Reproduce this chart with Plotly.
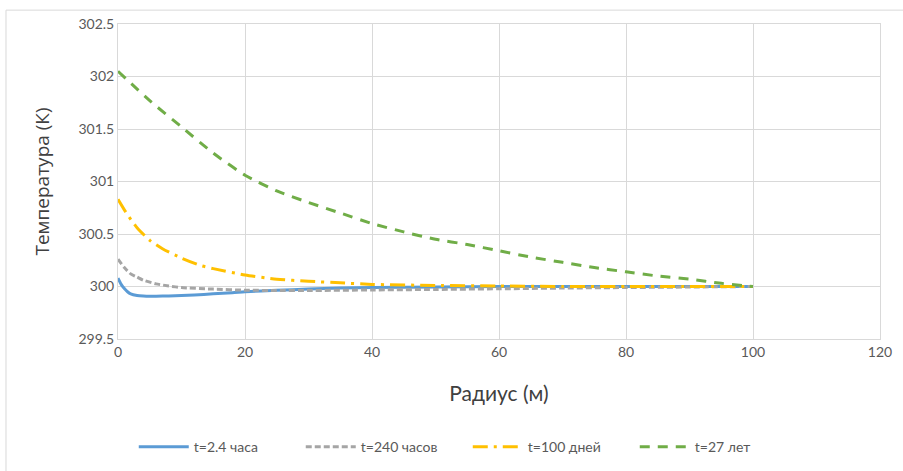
import plotly.graph_objects as go

r_blue = [0, 0.5, 1, 1.5, 2, 3, 4, 5, 6, 8, 10, 12, 15, 18, 20, 25, 30, 35, 40, 50, 60, 70, 80, 90, 100]
t_blue = [300.08, 300.02, 299.98, 299.95, 299.93, 299.915, 299.91, 299.908, 299.908, 299.91, 299.915, 299.92, 299.93, 299.94, 299.95, 299.965, 299.975, 299.985, 299.99, 299.995, 300.0, 300.0, 300.0, 300.0, 300.0]

r_gray = [0, 1, 2, 3, 4, 6, 8, 10, 15, 20, 25, 30, 40, 50, 60, 70, 80, 90, 100]
t_gray = [300.26, 300.18, 300.12, 300.09, 300.06, 300.025, 300.005, 299.99, 299.975, 299.965, 299.962, 299.962, 299.967, 299.972, 299.978, 299.985, 299.99, 299.995, 300.0]

r_yellow = [0, 1, 2, 3, 5, 7, 10, 13, 15, 20, 25, 30, 35, 40, 50, 60, 70, 80, 90, 100]
t_yellow = [300.83, 300.73, 300.64, 300.56, 300.44, 300.36, 300.27, 300.2, 300.17, 300.11, 300.07, 300.05, 300.035, 300.02, 300.01, 300.005, 300.0, 300.0, 300.0, 300.0]

r_green = [0, 5, 10, 15, 20, 25, 30, 35, 40, 45, 50, 55, 60, 65, 70, 75, 80, 85, 90, 95, 100]
t_green = [302.05, 301.77, 301.52, 301.27, 301.06, 300.91, 300.8, 300.7, 300.6, 300.52, 300.45, 300.4, 300.34, 300.28, 300.23, 300.18, 300.14, 300.1, 300.07, 300.03, 300.0]

names = ["t=2.4 часа", "t=240 часов", "t=100 дней", "t=27 лет"]
colors = ["#5b9bd5", "#a5a5a5", "#ffc000", "#70ad47"]
dashes = ["solid", "6px,3px", "longdashdot", "10px,8px"]

fig = go.Figure()
for xs, ys, n, c, d in zip([r_blue, r_gray, r_yellow, r_green],
                           [t_blue, t_gray, t_yellow, t_green], names, colors, dashes):
    fig.add_trace(go.Scatter(x=xs, y=ys, mode="lines", name=n,
                             line=dict(color=c, width=3, dash=d, shape="spline", smoothing=0.6)))

fig.update_layout(
    width=903, height=471,
    margin=dict(l=118, r=23, t=24, b=132, autoexpand=False),
    paper_bgcolor="white", plot_bgcolor="white",
    font=dict(family="Lato, Noto Sans, sans-serif", color="#595959", size=14),
    xaxis=dict(range=[0, 120], dtick=20, showgrid=True, gridcolor="#d9d9d9",
               zeroline=False, showline=True, linecolor="#d9d9d9", mirror=True,
               title=dict(text="Радиус (м)", font=dict(size=21, color="#404040"), standoff=27),
               tickfont=dict(size=14), ticks=""),
    yaxis=dict(range=[299.5, 302.5], dtick=0.5, showgrid=True, gridcolor="#d9d9d9",
               zeroline=False, showline=True, linecolor="#d9d9d9", mirror=True,
               title=dict(text="Температура (К)", font=dict(size=19, color="#404040", family="Open Sans, sans-serif"), standoff=23),
               tickfont=dict(size=14), ticks="", tickformat="~g"),
    legend=dict(orientation="h", x=0.459, xanchor="center", y=-0.343, yanchor="middle",
                font=dict(size=14, color="#595959"), itemwidth=50,
                entrywidth=102, entrywidthmode="pixels"),
    showlegend=True,
    shapes=[
        dict(type="line", xref="paper", yref="paper", x0=-0.147, x1=1.1, y0=1.044, y1=1.044,
             line=dict(color="#d9d9d9", width=1)),
        dict(type="line", xref="paper", yref="paper", x0=-0.147, x1=-0.147, y0=1.044, y1=-0.5,
             line=dict(color="#d9d9d9", width=1)),
    ],
)

fig.write_html("out.html")
